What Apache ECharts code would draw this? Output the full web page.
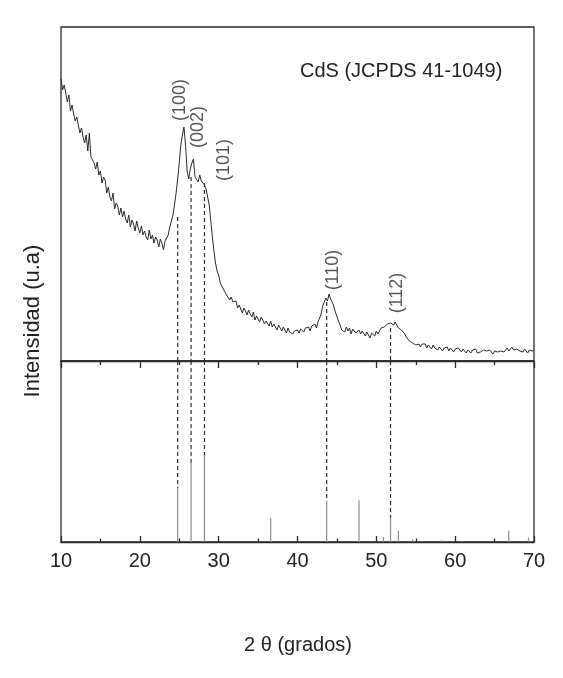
<!DOCTYPE html>
<html>
<head>
<meta charset="utf-8">
<script src="https://cdn.jsdelivr.net/npm/echarts@6/dist/echarts.min.js"></script>
<style>
  html, body { margin: 0; padding: 0; background: #fff; }
  #chart { width: 563px; height: 678px; }
</style>
</head>
<body>
<div id="chart"></div>
<script>
// ---------- DATA ----------
// measured pattern: 2θ from 10 to 70 in steps of 0.2 (intensity, arbitrary units)
const scanStart = 10;
const scanStep = 0.2;
const intensity = [
  282,271,276,268,259,266,250,256,247,240,
  244,236,228,233,224,218,226,210,228,204,
  202,198,192,199,186,190,178,184,181,168,
  174,164,160,168,152,158,155,146,153,144,
  150,142,138,146,134,141,137,130,140,133,
  128,135,126,130,124,121,131,122,126,118,
  124,121,114,122,118,111,120,119,126,134,
  140,146,156,168,182,198,216,226,234,216,
  190,182,192,198,202,184,182,179,186,180,
  182,176,172,164,156,140,124,110,98,90,
  86,78,77,72,71,66,68,61,64,59,
  58,60,53,56,54,48,53,50,46,51,
  47,44,49,41,45,44,39,44,41,37,
  40,38,35,40,34,37,35,31,36,33,
  30,34,31,28,33,29,31,27,30,29,
  31,28,32,30,29,33,31,34,30,35,
  34,37,33,39,43,47,55,56,63,60,
  67,62,59,55,49,47,40,36,31,32,
  29,34,30,33,27,32,34,28,30,31,
  27,30,28,25,29,26,23,28,27,25,
  30,27,29,33,31,34,32,37,35,38,
  40,36,39,37,33,35,31,29,27,24,
  23,20,21,18,20,16,18,17,14,17,
  15,17,13,16,15,12,16,13,14,11,
  14,12,10,13,12,14,10,13,11,9,
  12,10,13,11,9,12,10,8,11,10,
  8,11,9,12,8,10,9,7,11,9,
  10,8,11,9,7,10,12,9,11,10,
  12,9,11,13,10,12,14,11,9,12,
  13,10,11,9,12,10,8,11,9,10,
  11
];

// JCPDS 41-1049 reference lines (2θ, relative intensity)
const refAngles    = [24.8, 26.5, 28.2, 36.6, 43.7, 47.8, 50.9, 51.8, 52.8, 54.6, 58.3, 60.9, 66.8, 69.3];
const refIntensity = [62,   91,   100,  28,   47,   48,   6,    28,   13,   3,    2,    1,    13,   5];

// indexed peaks
const peakHkl    = ['(100)', '(002)', '(101)', '(110)', '(112)'];
const peakAngles = [24.8, 26.5, 28.2, 43.7, 51.8];
const peakDashTop = [144, 184, 178, 59, 33];   // where the guide line leaves the pattern
const peakRefHeight = [62, 91, 100, 47, 28];  // matching reference line heights

const xTicks = [10, 20, 30, 40, 50, 60, 70];
const title = 'CdS (JCPDS 41-1049)';
const yName = 'Intensidad (u.a)';
const xName = '2 \u03b8 (grados)';

// ---------- CHART ----------
const FONT = 'Liberation Sans, Arial, sans-serif';
const INK = '#2b2b2b';
const TOP_MAX = 334;
const BOT_MAX = 208;

const pattern = intensity.map((v, i) => [+(scanStart + i * scanStep).toFixed(2), v]);

// label placement (offsets in data units relative to peak)
const labelLayout = [
  { dx: 0.3, y: 261 },
  { dx: 0.9, y: 234 },
  { dx: 2.5, y: 201 },
  { dx: 0.8, y: 91 },
  { dx: 0.8, y: 68 }
];

const series = [];

series.push({
  type: 'line', xAxisIndex: 0, yAxisIndex: 0,
  data: pattern, showSymbol: false, symbol: 'none', sampling: null,
  lineStyle: { color: INK, width: 1 }, z: 3, animation: false
});

// reference sticks
series.push({
  type: 'bar', xAxisIndex: 1, yAxisIndex: 1,
  data: refAngles.map((a, i) => [a, refIntensity[i]]),
  barWidth: 1.2, itemStyle: { color: '#8a8a8a' }, animation: false, z: 2
});

// dashed guide lines
peakAngles.forEach((a, i) => {
  series.push({
    type: 'line', xAxisIndex: 0, yAxisIndex: 0,
    data: [[a, peakDashTop[i]], [a, 0]], symbol: 'none',
    lineStyle: { color: INK, width: 1.2, type: [4, 3] }, animation: false, z: 2
  });
  series.push({
    type: 'line', xAxisIndex: 1, yAxisIndex: 1,
    data: [[a, BOT_MAX], [a, peakRefHeight[i]]], symbol: 'none',
    lineStyle: { color: INK, width: 1.2, type: [4, 3] }, animation: false, z: 2
  });
});

// hkl labels
series.push({
  type: 'scatter', xAxisIndex: 0, yAxisIndex: 0,
  symbolSize: 0, animation: false, z: 5,
  data: peakHkl.map((t, i) => ({ value: [peakAngles[i] + labelLayout[i].dx, labelLayout[i].y], name: t })),
  label: {
    show: true, position: 'inside', rotate: 90, formatter: p => p.name,
    fontFamily: FONT, fontSize: 18, color: INK
  }
});

const chart = echarts.init(document.getElementById('chart'), null, { renderer: 'canvas' });
chart.setOption({
  backgroundColor: '#ffffff',
  animation: false,
  grid: [
    { left: 61, right: 29, top: 27, height: 334, show: true, borderColor: INK, borderWidth: 1.3, backgroundColor: 'transparent' },
    { left: 61, right: 29, top: 361, height: 181, show: true, borderColor: INK, borderWidth: 1.3, backgroundColor: 'transparent' }
  ],
  xAxis: [
    { type: 'value', gridIndex: 0, min: 10, max: 70, interval: 10, show: false },
    { type: 'value', gridIndex: 1, min: 10, max: 70, interval: 10, position: 'bottom',
      axisLine: { show: true, lineStyle: { color: INK, width: 1.3 } },
      axisTick: { show: true, inside: true, length: 6, lineStyle: { color: INK, width: 1.3 } },
      minorTick: { show: true, splitNumber: 2, length: 3.5, lineStyle: { color: INK, width: 1.3 } },
      axisLabel: { show: true, fontFamily: FONT, fontSize: 20, color: '#222', margin: 9,
        formatter: v => xTicks.includes(v) ? String(v) : '' },
      splitLine: { show: false }
    },
    { type: 'value', gridIndex: 1, min: 10, max: 70, interval: 10, position: 'top',
      axisLine: { show: true, lineStyle: { color: INK, width: 1.3 } },
      axisTick: { show: true, inside: true, length: 7, lineStyle: { color: INK, width: 1.3 } },
      minorTick: { show: true, splitNumber: 2, length: 4, lineStyle: { color: INK, width: 1.3 } },
      axisLabel: { show: false }, splitLine: { show: false }
    }
  ],
  yAxis: [
    { type: 'value', gridIndex: 0, min: 0, max: TOP_MAX, show: false },
    { type: 'value', gridIndex: 1, min: 0, max: BOT_MAX, show: false }
  ],
  series: series,
  graphic: [
    { type: 'text', x: 300, y: 71,
      style: { text: title, fontFamily: FONT, fontSize: 20, fill: '#222', align: 'left', verticalAlign: 'middle' } },
    { type: 'text', x: 33, y: 321, rotation: Math.PI / 2,
      style: { text: yName, fontFamily: FONT, fontSize: 22, fill: '#222', align: 'center', verticalAlign: 'middle' } },
    { type: 'text', x: 298, y: 645,
      style: { text: xName, fontFamily: FONT, fontSize: 20, fill: '#222', align: 'center', verticalAlign: 'middle' } }
  ]
});
</script>
</body>
</html>
